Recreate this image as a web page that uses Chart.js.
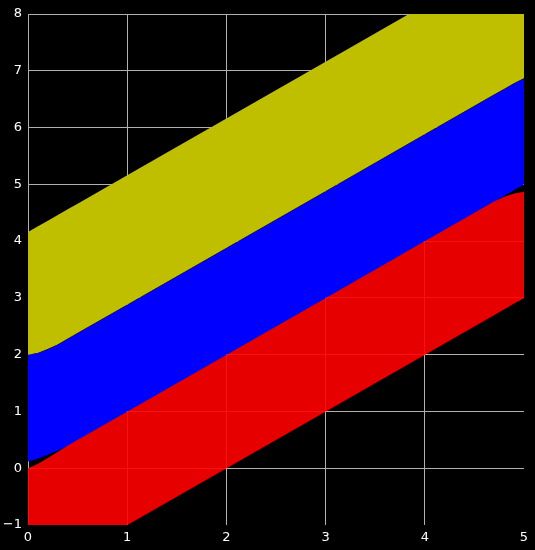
<!DOCTYPE html>
<html>
<head>
<meta charset="utf-8">
<script src="https://cdn.jsdelivr.net/npm/chart.js@4"></script>
<style>
html,body{margin:0;padding:0;background:#000;}
#wrap{width:535px;height:550px;position:relative;}
</style>
</head>
<body>
<div id="wrap"><canvas id="c" width="535" height="550"></canvas></div>
<script>
const xValues   = [0, 0.1, 0.2, 0.3, 0.4, 0.5, 1, 2, 3, 4, 4.7, 4.8, 4.9, 5];
const redLow    = [-1, -1, -1, -1, -1, -1, -1, 0, 1, 2, 2.7, 2.8, 2.9, 3];
const redHigh   = [0, 0.08, 0.18, 0.29, 0.4, 0.5, 1, 2, 3, 4, 4.7, 4.78, 4.84, 4.87];
const blueLow   = [0.12, 0.17, 0.24, 0.31, 0.4, 0.5, 1, 2, 3, 4, 4.7, 4.8, 4.9, 5.0];
const blueHigh  = [2.0, 2.03, 2.1, 2.18, 2.28, 2.38, 2.88, 3.88, 4.88, 5.88, 6.58, 6.68, 6.78, 6.87];
const yellowHigh= [4.16, 4.26, 4.36, 4.46, 4.56, 4.66, 5.16, 6.16, 7.16, 8.16, 8.86, 8.96, 9.06, 9.16];
const xTicks = [0, 1, 2, 3, 4, 5];
const yTicks = [-1, 0, 1, 2, 3, 4, 5, 6, 7, 8];

const pts = arr => arr.map((v, i) => ({x: xValues[i], y: v}));
const base = {borderWidth: 0, borderColor: 'transparent', pointRadius: 0, tension: 0};

new Chart(document.getElementById('c'), {
  type: 'line',
  data: {
    datasets: [
      Object.assign({label: 'redLow', data: pts(redLow), fill: false}, base),
      Object.assign({label: 'redHigh', data: pts(redHigh), fill: {target: 0}, backgroundColor: 'rgba(255,0,0,0.9)'}, base),
      Object.assign({label: 'blueLow', data: pts(blueLow), fill: false}, base),
      Object.assign({label: 'blueHigh', data: pts(blueHigh), fill: {target: 2}, backgroundColor: '#0000ff'}, base),
      Object.assign({label: 'yellowHigh', data: pts(yellowHigh), fill: {target: 3}, backgroundColor: '#bfbf00'}, base)
    ]
  },
  options: {
    responsive: false,
    animation: false,
    events: [],
    layout: {padding: {top: 14, right: 11, left: 0, bottom: 0}},
    plugins: {legend: {display: false}, tooltip: {enabled: false}},
    scales: {
      x: {
        type: 'linear', min: 0, max: 5,
        afterBuildTicks: s => { s.ticks = xTicks.map(v => ({value: v})); },
        afterFit: s => { s.height = 25; },
        border: {display: false},
        grid: {drawTicks: false, lineWidth: 1,
               color: c => (c.tick && c.tick.value === 5) ? 'rgba(0,0,0,0)' : '#b0b0b0'},
        ticks: {color: '#ffffff', padding: 5, maxRotation: 0,
                font: {family: 'DejaVu Sans', size: 13},
                callback: v => String(v).replace('-', '\u2212')}
      },
      y: {
        type: 'linear', min: -1, max: 8,
        afterBuildTicks: s => { s.ticks = yTicks.map(v => ({value: v})); },
        afterFit: s => { s.width = 28; },
        border: {display: false},
        grid: {drawTicks: false, lineWidth: 1,
               color: c => (c.tick && c.tick.value === -1) ? 'rgba(0,0,0,0)' : '#b0b0b0'},
        ticks: {color: '#ffffff', padding: 6,
                font: {family: 'DejaVu Sans', size: 13},
                callback: v => String(v).replace('-', '\u2212')}
      }
    }
  }
});
</script>
</body>
</html>
